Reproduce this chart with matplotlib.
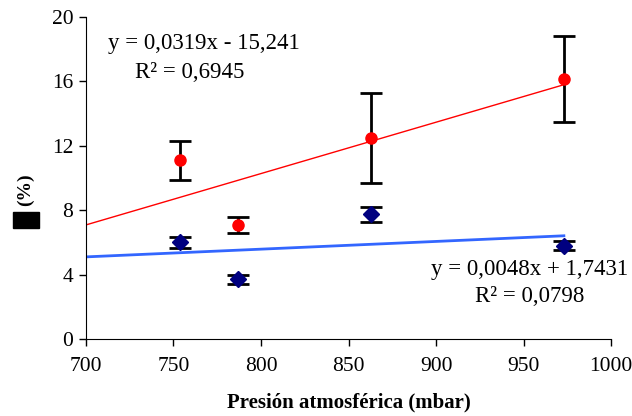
import numpy as np
from matplotlib import pyplot as plt
from matplotlib.patches import Rectangle

# Data
pres_red = [754, 787, 863, 973]  # mbar
val_red = [11.1, 7.1, 12.5, 16.15]  # %
err_red = [1.2, 0.5, 2.8, 2.65]

pres_blue = [754, 787, 863, 973]
val_blue = [6.0, 3.7, 7.75, 5.8]
err_blue = [0.35, 0.3, 0.45, 0.3]

# Trend lines (from the equations on the chart)
fit_red = (0.0319, -15.241)
fit_blue = (0.0048, 1.7431)
line_x = [700, 973]

plt.rcParams["font.family"] = ["Liberation Serif", "DejaVu Serif"]

fig = plt.figure(figsize=(6.32, 4.16), dpi=100)
ax = fig.add_axes([0.136, 0.185, 0.831, 0.774])

lx = np.array(line_x)
ax.plot(lx, fit_red[0] * lx + fit_red[1], color="red", lw=1.0, zorder=2)
ax.plot(lx, fit_blue[0] * lx + fit_blue[1], color="#3366ff", lw=2.0, zorder=2)

ax.errorbar(pres_red, val_red, yerr=err_red, fmt="o", color="red", ms=8,
            ecolor="black", elinewidth=2, capsize=8, capthick=2, zorder=3)
ax.errorbar(pres_blue, val_blue, yerr=err_blue, fmt="D", color="#000080", ms=8,
            ecolor="black", elinewidth=2, capsize=8, capthick=2, zorder=3)

ax.set_xlim(700, 1000)
ax.set_ylim(0, 20)
ax.set_xticks(np.arange(700, 1001, 50))
ax.set_yticks(np.arange(0, 21, 4))
ax.spines["top"].set_visible(False)
ax.spines["right"].set_visible(False)
ax.tick_params(labelsize=15.5, length=5, width=1, direction="out")
ax.tick_params(axis="x", pad=8)
ax.tick_params(axis="y", pad=4)

ax.set_xlabel("Presión atmosférica (mbar)", fontsize=15, fontweight="bold",
              labelpad=12)

# y label: missing-glyph box followed by (%)
fig.text(0.040, 0.545, "(%)", rotation=90, fontsize=14, fontweight="bold",
         ha="center", va="center")
fig.patches.append(Rectangle((13 / 632, 1 - 228 / 416), 26 / 632, 16 / 416,
                             transform=fig.transFigure, color="black"))

# regression equations
eq_size = 16.5
fig.text(108 / 632, 1 - 44 / 416, "y = 0,0319x - 15,241", fontsize=eq_size,
         ha="left", va="center")
fig.text(190 / 632, 1 - 73 / 416, "R² = 0,6945", fontsize=eq_size,
         ha="center", va="center")
fig.text(628 / 632, 1 - 270 / 416, "y = 0,0048x + 1,7431", fontsize=eq_size,
         ha="right", va="center")
fig.text(530 / 632, 1 - 297 / 416, "R² = 0,0798", fontsize=eq_size,
         ha="center", va="center")

fig.savefig("out.png", dpi=100)
